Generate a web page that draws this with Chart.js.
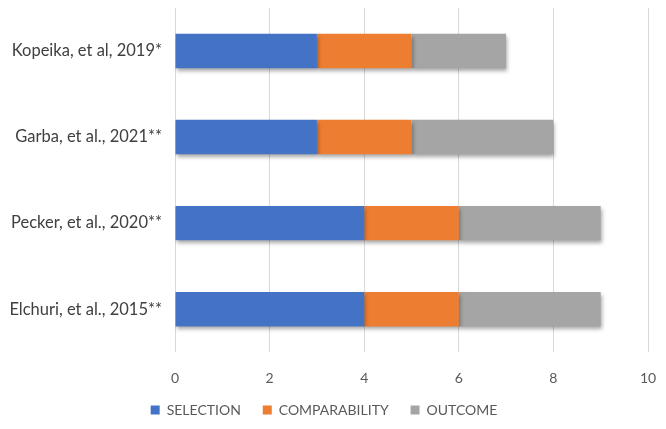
<!DOCTYPE html>
<html>
<head>
<meta charset="utf-8">
<script src="https://cdn.jsdelivr.net/npm/chart.js@4.4.0/dist/chart.umd.min.js"></script>
<style>
html,body{margin:0;padding:0;background:#fff;}
#wrap{width:666px;height:429px;position:relative;}
</style>
</head>
<body>
<div id="wrap"><canvas id="c"></canvas></div>
<script>
const categories = ["Kopeika, et al, 2019*", "Garba, et al., 2021**", "Pecker, et al., 2020**", "Elchuri, et al., 2015**"];
const selection = [3, 3, 4, 4];
const comparability = [2, 2, 2, 2];
const outcome = [2, 3, 3, 3];
const xTicks = [0, 2, 4, 6, 8, 10];

const shadowPlugin = {
  id: 'barShadow',
  beforeDatasetsDraw(chart) {
    const ctx = chart.ctx;
    ctx.save();
    ctx.shadowColor = 'rgba(0,0,0,0.35)';
    ctx.shadowBlur = 4;
    ctx.shadowOffsetX = 1;
    ctx.shadowOffsetY = 3;
  },
  afterDatasetsDraw(chart) {
    chart.ctx.restore();
  }
};

Chart.defaults.font.family = "Lato, 'Open Sans', sans-serif";
new Chart(document.getElementById('c'), {
  type: 'bar',
  data: {
    labels: categories,
    datasets: [
      {label: 'SELECTION', data: selection, backgroundColor: '#4472C4'},
      {label: 'COMPARABILITY', data: comparability, backgroundColor: '#ED7D31'},
      {label: 'OUTCOME', data: outcome, backgroundColor: '#A5A5A5'}
    ]
  },
  options: {
    indexAxis: 'y',
    responsive: true,
    maintainAspectRatio: false,
    animation: false,
    layout: {padding: {left: 0, right: 18, top: 8, bottom: 2}},
    datasets: {bar: {categoryPercentage: 1, barPercentage: 0.40}},
    scales: {
      x: {
        stacked: true, min: 0, max: 10,
        afterBuildTicks(scale) { scale.ticks = xTicks.map(v => ({value: v})); },
        afterFit(scale) { scale.paddingRight = 0; scale.paddingLeft = 0; scale.height -= 6; },
        grid: {color: '#d9d9d9', drawTicks: false},
        border: {display: false},
        ticks: {color: '#595959', padding: 18, font: {size: 14}}
      },
      y: {
        stacked: true,
        afterFit(scale) { scale.width = 175; scale.paddingTop = 0; scale.paddingBottom = 0; },
        grid: {display: false, drawTicks: false},
        border: {display: false},
        ticks: {color: '#404040', padding: 13, font: {size: 16.5}}
      }
    },
    plugins: {
      legend: {
        position: 'bottom',
        labels: {
          boxWidth: 9, boxHeight: 9, color: '#595959', font: {size: 14}, padding: 4,
          generateLabels(chart) {
            const items = Chart.defaults.plugins.legend.labels.generateLabels(chart);
            items.forEach((it, i) => { if (i < items.length - 1) it.text += '     '; });
            return items;
          }
        }
      },
      tooltip: {enabled: false}
    }
  },
  plugins: [shadowPlugin]
});
</script>
</body>
</html>
